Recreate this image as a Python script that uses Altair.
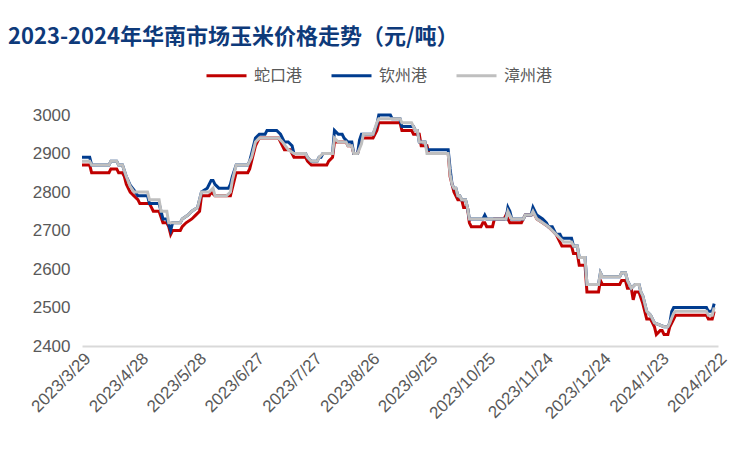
import altair as alt
import pandas as pd

start_date = "2023-03-29"
series_names = ["蛇口港", "钦州港", "漳州港"]
series_colors = ["#C00000", "#003C8F", "#BFBFBF"]

# day offsets from 2023/3/29 and prices (元/吨)
shekou_days = [0, 4, 5, 14, 15, 18, 19, 21, 22, 23, 25, 27, 29, 30, 35, 36, 37, 40, 42, 44,
               45, 46, 47, 51, 52, 54, 57, 59, 61, 62, 66, 67, 69, 77, 78, 80, 86, 87, 88, 90,
               91, 92, 102, 103, 105, 108, 109, 110, 116, 117, 119, 127, 128, 130, 131, 137, 138, 140, 141, 143,
               144, 145, 151, 153, 154, 165, 166, 171, 172, 175, 176, 179, 180, 190, 191, 192, 193, 195, 197, 198,
               200, 201, 202, 207, 208, 209, 210, 213, 214, 219, 220, 221, 222, 228, 229, 230, 233, 234, 236, 239,
               242, 244, 246, 248, 249, 254, 255, 257, 258, 261, 262, 268, 269, 270, 279, 280, 282, 283, 285, 286,
               287, 289, 291, 293, 295, 296, 297, 298, 300, 301, 302, 304, 305, 307, 308, 324, 325, 327, 328]
shekou_vals = [2870, 2870, 2850, 2850, 2860, 2860, 2850, 2850, 2840, 2820, 2800, 2790, 2780, 2770, 2770, 2760, 2750, 2750, 2720, 2720,
               2710, 2690, 2700, 2700, 2710, 2720, 2730, 2740, 2750, 2790, 2790, 2800, 2790, 2790, 2810, 2850, 2850, 2860, 2880, 2920,
               2930, 2940, 2940, 2930, 2910, 2910, 2900, 2890, 2890, 2880, 2870, 2870, 2880, 2890, 2930, 2930, 2920, 2920, 2900, 2900,
               2920, 2940, 2940, 2960, 2980, 2980, 2960, 2960, 2950, 2950, 2920, 2920, 2900, 2900, 2840, 2820, 2800, 2780, 2780, 2760,
               2760, 2720, 2710, 2710, 2720, 2720, 2710, 2710, 2730, 2730, 2740, 2730, 2720, 2720, 2730, 2740, 2740, 2750, 2730, 2720,
               2710, 2700, 2690, 2670, 2660, 2660, 2640, 2640, 2610, 2610, 2540, 2540, 2570, 2560, 2560, 2570, 2570, 2550, 2550, 2520,
               2540, 2540, 2510, 2470, 2470, 2460, 2450, 2430, 2440, 2440, 2430, 2430, 2450, 2470, 2480, 2480, 2470, 2470, 2490]

qinzhou_days = [0, 4, 5, 14, 15, 18, 19, 21, 23, 25, 27, 29, 34, 35, 40, 42, 44, 46, 47, 51,
                52, 55, 57, 60, 62, 65, 67, 68, 69, 71, 76, 77, 78, 80, 86, 87, 88, 90, 92, 95,
                96, 101, 103, 105, 107, 109, 110, 116, 117, 119, 122, 123, 124, 125, 130, 131, 133, 135, 136, 138,
                140, 141, 143, 144, 145, 151, 153, 154, 160, 161, 165, 166, 172, 173, 174, 175, 178, 179, 190, 191,
                192, 193, 194, 195, 196, 197, 199, 200, 201, 208, 209, 210, 220, 221, 222, 223, 229, 230, 233, 234,
                236, 239, 241, 242, 244, 246, 248, 249, 254, 255, 257, 258, 261, 262, 268, 269, 270, 279, 280, 282,
                283, 285, 287, 289, 290, 291, 293, 295, 297, 302, 304, 305, 306, 307, 324, 325, 327, 328]
qinzhou_vals = [2890, 2890, 2870, 2870, 2880, 2880, 2870, 2870, 2840, 2818, 2805, 2790, 2790, 2770, 2770, 2730, 2730, 2700, 2720, 2720,
                2730, 2740, 2750, 2760, 2800, 2810, 2830, 2830, 2820, 2810, 2810, 2820, 2840, 2870, 2870, 2880, 2900, 2940, 2950, 2950,
                2960, 2960, 2950, 2930, 2930, 2920, 2900, 2900, 2890, 2880, 2880, 2890, 2890, 2900, 2900, 2960, 2950, 2950, 2940, 2930,
                2930, 2900, 2900, 2935, 2950, 2950, 2975, 3000, 3000, 2990, 2990, 2970, 2970, 2960, 2960, 2930, 2930, 2910, 2910, 2860,
                2820, 2810, 2810, 2790, 2790, 2780, 2780, 2760, 2730, 2730, 2740, 2730, 2730, 2760, 2750, 2730, 2730, 2740, 2740, 2760,
                2740, 2730, 2720, 2710, 2710, 2690, 2690, 2680, 2680, 2660, 2660, 2630, 2630, 2560, 2560, 2590, 2580, 2580, 2590, 2590,
                2570, 2550, 2560, 2560, 2540, 2530, 2490, 2480, 2460, 2450, 2450, 2460, 2490, 2500, 2500, 2490, 2490, 2510]

zhangzhou_days = [0, 4, 5, 14, 15, 18, 19, 21, 23, 25, 27, 34, 35, 40, 41, 44, 45, 51, 52, 55,
                  57, 60, 62, 66, 68, 69, 75, 77, 78, 80, 86, 88, 90, 92, 102, 104, 107, 110, 116, 117,
                  119, 122, 123, 125, 130, 131, 133, 137, 138, 140, 141, 143, 145, 146, 151, 153, 154, 165, 166, 171,
                  173, 174, 175, 178, 179, 190, 191, 192, 193, 194, 195, 196, 197, 199, 200, 201, 220, 221, 222, 223,
                  229, 230, 233, 234, 236, 239, 242, 244, 246, 248, 250, 254, 255, 257, 258, 261, 262, 268, 269, 270,
                  279, 280, 282, 283, 285, 287, 289, 290, 291, 293, 295, 297, 302, 304, 305, 307, 308, 324, 325, 327, 328]
zhangzhou_vals = [2880, 2880, 2870, 2870, 2880, 2880, 2870, 2870, 2840, 2815, 2800, 2800, 2780, 2780, 2750, 2750, 2720, 2720, 2730, 2740,
                  2750, 2760, 2800, 2800, 2810, 2790, 2790, 2800, 2830, 2870, 2870, 2890, 2930, 2940, 2940, 2930, 2910, 2900, 2900, 2890,
                  2880, 2880, 2890, 2900, 2900, 2940, 2930, 2930, 2920, 2920, 2900, 2900, 2925, 2950, 2950, 2980, 2990, 2990, 2980, 2980,
                  2960, 2960, 2930, 2930, 2900, 2900, 2845, 2820, 2810, 2810, 2790, 2790, 2780, 2780, 2760, 2730, 2730, 2750, 2740, 2730,
                  2730, 2740, 2740, 2750, 2730, 2720, 2710, 2700, 2690, 2680, 2670, 2670, 2660, 2660, 2630, 2630, 2560, 2560, 2590, 2580,
                  2580, 2590, 2590, 2570, 2550, 2560, 2560, 2540, 2530, 2490, 2480, 2460, 2450, 2450, 2460, 2485, 2490, 2490, 2480, 2480, 2500]

tick_dates = ["2023-03-29", "2023-04-28", "2023-05-28", "2023-06-27", "2023-07-27", "2023-08-26",
              "2023-09-25", "2023-10-25", "2023-11-24", "2023-12-24", "2024-01-23", "2024-02-22"]
y_ticks = [2400, 2500, 2600, 2700, 2800, 2900, 3000]

frames = []
for name, days, vals in [("蛇口港", shekou_days, shekou_vals),
                         ("钦州港", qinzhou_days, qinzhou_vals),
                         ("漳州港", zhangzhou_days, zhangzhou_vals)]:
    d = pd.DataFrame({"day": days, "price": vals})
    d["date"] = (pd.Timestamp(start_date) + pd.to_timedelta(d["day"], unit="D")).dt.strftime("%Y-%m-%d")
    d["port"] = name
    frames.append(d)
df = pd.concat(frames, ignore_index=True)

tick_objs = [alt.DateTime(year=int(t[:4]), month=int(t[5:7]), date=int(t[8:10])) for t in tick_dates]

x_enc = alt.X("date:T",
              scale=alt.Scale(domain=[alt.DateTime(year=2023, month=3, date=29),
                                      alt.DateTime(year=2024, month=2, date=22)]),
              axis=alt.Axis(values=tick_objs, format="%Y/%-m/%-d", labelAngle=315,
                            labelAlign="right", labelBaseline="top", labelPadding=4,
                            ticks=False, grid=False, domainColor="#D9D9D9", domainWidth=2,
                            labelColor="#595959", labelFont="Liberation Sans", labelFontSize=17,
                            labelOverlap=False, title=None))
y_enc = alt.Y("price:Q",
              scale=alt.Scale(domain=[2400, 3000], nice=False, zero=False),
              axis=alt.Axis(values=y_ticks, format="d", ticks=False, grid=False, domain=False,
                            labelColor="#595959", labelFont="Liberation Sans", labelFontSize=17,
                            labelPadding=12, title=None))
color_enc = alt.Color("port:N",
                      scale=alt.Scale(domain=series_names, range=series_colors),
                      legend=alt.Legend(title=None, orient="none", direction="horizontal",
                                        legendX=123, legendY=-61,
                                        symbolType="stroke", symbolSize=1600, symbolStrokeWidth=3,
                                        labelFont="Noto Sans CJK SC", labelFontSize=16,
                                        labelColor="#595959", columnPadding=22, labelOffset=6))

base = alt.Chart(df)
layers = [
    base.transform_filter(alt.datum.port == name)
        .mark_line(strokeWidth=3, interpolate="linear")
        .encode(x=x_enc, y=y_enc, color=color_enc)
    for name in series_names
]

chart = alt.layer(*layers).properties(
    width=636, height=231,
    title=alt.Title("2023-2024年华南市场玉米价格走势（元/吨）", anchor="start", frame="group",
                    dx=-74, offset=5, font="Noto Sans CJK SC", fontSize=22, fontWeight="bold",
                    color="#0E3A7A"),
    autosize=alt.AutoSizeParams(type="none"),
    padding={"left": 74, "top": 107, "right": 20, "bottom": 90},
).configure_view(stroke=None)

chart.save("out.html", embed_options={"renderer": "svg", "actions": False})
